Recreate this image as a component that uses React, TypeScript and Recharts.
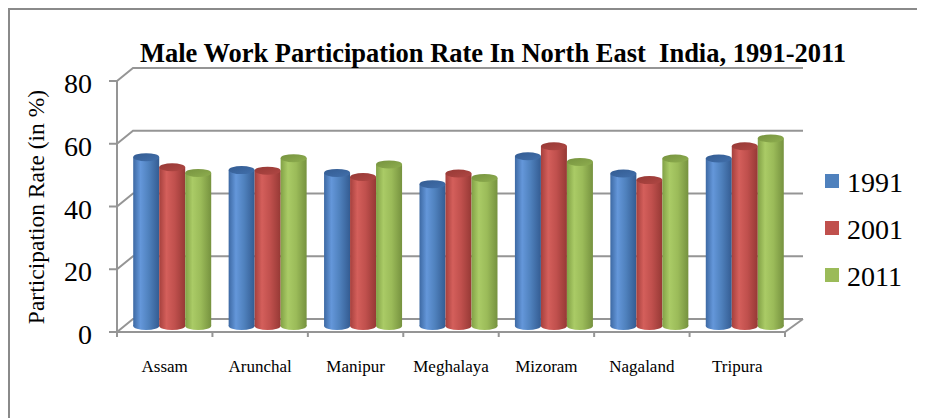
import React from 'react';
import { BarChart, Bar, XAxis, YAxis, CartesianGrid, Legend } from 'recharts';

const categories = ['Assam', 'Arunchal', 'Manipur', 'Meghalaya', 'Mizoram', 'Nagaland', 'Tripura'];
const rate1991 = [53.8, 49.7, 48.8, 45.2, 54.1, 48.6, 53.4];
const rate2001 = [50.6, 49.5, 47.5, 48.6, 57.3, 46.5, 57.3];
const rate2011 = [48.8, 53.5, 51.5, 47.2, 52.3, 53.4, 59.8];
const years = ['1991', '2001', '2011'];
const yTicks = [0, 20, 40, 60, 80];

const data = categories.map((c, i) => ({
  name: c,
  y1991: rate1991[i],
  y2001: rate2001[i],
  y2011: rate2011[i],
}));

const SERIF = '"Liberation Serif", "Times New Roman", Times, serif';
const GRID = '#959595';

const palettes: Record<string, { base: string; dark: string; light: string; dark2: string; top: string }> = {
  y1991: { base: '#4F81BD', dark: '#3d69a3', light: '#6497da', dark2: '#345c92', top: '#416fab' },
  y2001: { base: '#C0504D', dark: '#a5403d', light: '#d45f5b', dark2: '#963935', top: '#b04744' },
  y2011: { base: '#9BBB59', dark: '#82a146', light: '#aacb66', dark2: '#76923f', top: '#8eae4f' },
};

const makeCylinder = (key: string) => (props: any) => {
  const { x, y, width, height } = props;
  if (width == null || height == null) return <g />;
  const pal = palettes[key];
  const dx = 8;
  const dy = -6;
  const ry = 4;
  const bx = x + dx;
  const top = y + dy;
  const bottom = y + dy + height;
  const cx = bx + width / 2;
  const rx = width / 2;
  const gid = `cyl-${key}`;
  const tid = `cyltop-${key}`;
  return (
    <g>
      <defs>
        <linearGradient id={gid} x1="0" x2="1" y1="0" y2="0">
          <stop offset="0%" stopColor={pal.dark} />
          <stop offset="28%" stopColor={pal.light} />
          <stop offset="60%" stopColor={pal.base} />
          <stop offset="100%" stopColor={pal.dark2} />
        </linearGradient>
        <linearGradient id={tid} x1="0" x2="1" y1="0" y2="1">
          <stop offset="0%" stopColor={pal.dark2} />
          <stop offset="100%" stopColor={pal.top} />
        </linearGradient>
      </defs>
      <rect x={bx} y={top} width={width} height={height} fill={`url(#${gid})`} />
      <ellipse cx={cx} cy={bottom} rx={rx} ry={ry} fill={`url(#${gid})`} />
      <ellipse cx={cx} cy={top} rx={rx} ry={ry} fill={`url(#${tid})`} />
    </g>
  );
};

const renderGridLine = (props: any) => {
  const { x1, x2, y1 } = props;
  const pts = `${x1},${y1} ${x1 + 16},${y1 - 13} ${x2 + 18},${y1 - 13}`;
  return <polyline key={`g-${y1}`} points={pts} fill="none" stroke={GRID} strokeWidth={2} />;
};

const YTick = (props: any) => {
  const { x, y, payload } = props;
  return (
    <text x={x} y={y} dy={12} textAnchor="end" fontFamily={SERIF} fontSize={28} fill="#000">
      {payload.value}
    </text>
  );
};

const XTick = (props: any) => {
  const { x, y, payload, index } = props;
  const half = payload && payload.offset ? payload.offset : 668 / 14;
  const isLast = index === categories.length - 1;
  return (
    <g>
      <line x1={x - half} y1={y} x2={x - half} y2={y + 5} stroke={GRID} strokeWidth={2} />
      {isLast && (
        <g>
          <line x1={x + half} y1={y} x2={x + half} y2={y + 5} stroke={GRID} strokeWidth={2} />
          <line x1={x + half} y1={y} x2={x + half + 18} y2={y - 13} stroke={GRID} strokeWidth={2} />
        </g>
      )}
      <text x={x} y={y + 39.5} textAnchor="middle" fontFamily={SERIF} fontSize={17} fill="#000">
        {payload.value}
      </text>
    </g>
  );
};

const legendColors = [palettes.y1991.base, palettes.y2001.base, palettes.y2011.base];

const LegendContent = () => (
  <div>
    {years.map((yr, i) => (
      <div key={yr} style={{ display: 'flex', alignItems: 'center', height: 47 }}>
        <div
          style={{
            width: 14,
            height: 14,
            background: legendColors[i],
            marginRight: 8,
            position: 'relative',
            top: -2,
          }}
        />
        <span style={{ fontFamily: SERIF, fontSize: 28, lineHeight: '28px', color: '#000' }}>{yr}</span>
      </div>
    ))}
  </div>
);

export default function App() {
  const W = 917;
  const H = 410;
  return (
    <div style={{ position: 'relative', width: W, height: H }}>
      <BarChart
        width={W}
        height={H}
        data={data}
        margin={{ top: 73, right: 140, bottom: 56, left: 69 }}
        barCategoryGap="8.6%"
        barGap={0}
      >
        <CartesianGrid vertical={false} horizontal={renderGridLine} />
        <XAxis
          dataKey="name"
          height={30}
          interval={0}
          tickLine={false}
          tickSize={0}
          tickMargin={0}
          axisLine={{ stroke: GRID, strokeWidth: 2 }}
          tick={XTick}
        />
        <YAxis
          width={40}
          domain={[0, 80]}
          ticks={yTicks}
          interval={0}
          tickSize={8}
          tickMargin={17}
          axisLine={{ stroke: GRID, strokeWidth: 2 }}
          tickLine={{ stroke: GRID, strokeWidth: 2 }}
          tick={YTick}
        />
        <Legend
          layout="vertical"
          align="center"
          verticalAlign="middle"
          content={LegendContent}
          wrapperStyle={{ left: 817, top: 151, width: 100, height: 141 }}
        />
        <Bar dataKey="y1991" name="1991" fill={palettes.y1991.base} isAnimationActive={false} shape={makeCylinder('y1991')} />
        <Bar dataKey="y2001" name="2001" fill={palettes.y2001.base} isAnimationActive={false} shape={makeCylinder('y2001')} />
        <Bar dataKey="y2011" name="2011" fill={palettes.y2011.base} isAnimationActive={false} shape={makeCylinder('y2011')} />
      </BarChart>
      <svg
        width={W}
        height={H}
        style={{ position: 'absolute', left: 0, top: 0, pointerEvents: 'none' }}
      >
        <text
          x={485}
          y={54}
          textAnchor="middle"
          fontFamily={SERIF}
          fontWeight="bold"
          fontSize={26.5}
          fill="#000"
          style={{ whiteSpace: 'pre' }}
        >
          {'Male Work Participation Rate In North East  India, 1991-2011'}
        </text>
        <text
          x={36}
          y={199}
          textAnchor="middle"
          fontFamily={SERIF}
          fontSize={23.5}
          fill="#000"
          transform="rotate(-90, 36, 199)"
        >
          Participation Rate (in %)
        </text>
      </svg>
      <div
        style={{
          position: 'absolute',
          left: 0,
          top: 0,
          width: W,
          height: H,
          borderTop: '2px solid #8a8a8a',
          borderLeft: '2px solid #8a8a8a',
          boxSizing: 'border-box',
          pointerEvents: 'none',
        }}
      />
    </div>
  );
}
